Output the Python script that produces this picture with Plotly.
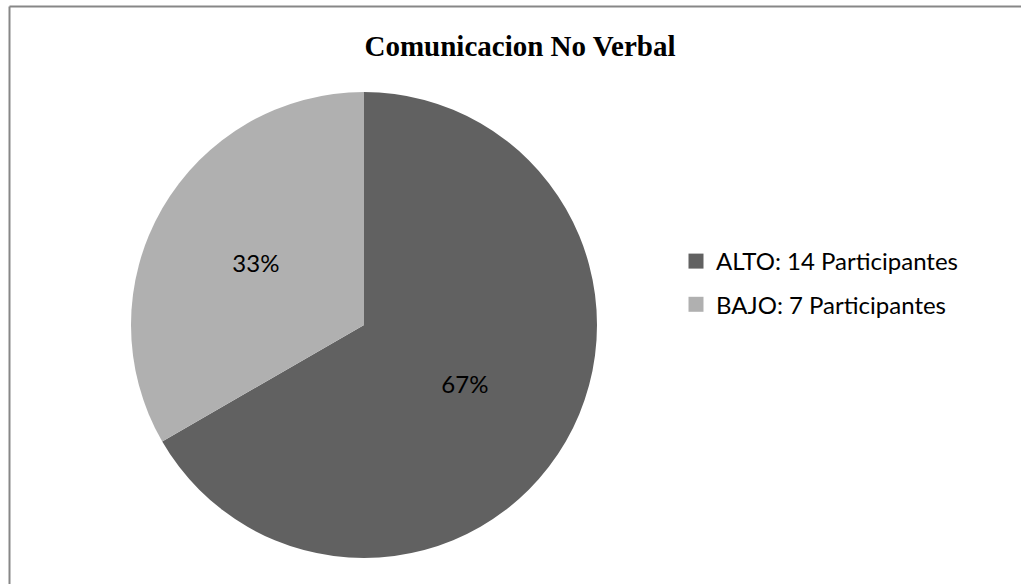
import plotly.graph_objects as go

categories = ["ALTO: 14 Participantes", "BAJO: 7 Participantes"]
participants = [14, 7]
colors = ["#616161", "#b0b0b0"]
title_text = "Comunicacion No Verbal"

W, H = 1021, 584

fig = go.Figure()
fig.add_trace(go.Pie(
    labels=categories,
    values=participants,
    sort=False,
    direction="clockwise",
    rotation=0,
    marker=dict(colors=colors, line=dict(width=0)),
    textinfo="percent",
    texttemplate="%{percent:.0%}",
    textposition="inside",
    insidetextorientation="horizontal",
    textfont=dict(family="Lato", size=24, color="#000000"),
    domain=dict(x=[131 / W, 597 / W], y=[1 - 558 / H, 1 - 92 / H]),
    hoverinfo="label+value+percent",
    showlegend=False,
))

# legend entries (same categories / colours as the pie slices)
for cat, col in zip(categories, colors):
    fig.add_trace(go.Scatter(
        x=[None], y=[None], mode="markers", name=cat, legendgroup=cat,
        marker=dict(symbol="square", size=15, color=col, line=dict(width=0)),
        hoverinfo="skip",
    ))

fig.update_layout(
    width=W, height=H,
    margin=dict(l=0, r=0, t=0, b=0),
    paper_bgcolor="white",
    plot_bgcolor="white",
    xaxis=dict(visible=False),
    yaxis=dict(visible=False),
    title=dict(text="<b>" + title_text + "</b>", x=520 / W, xanchor="center",
               y=1 - 46 / H, yanchor="middle",
               font=dict(family="Liberation Serif", size=29, color="#000000")),
    legend=dict(x=676 / W, xanchor="left", y=1 - 239 / H, yanchor="top",
                font=dict(family="Lato", size=24, color="#000000"),
                traceorder="grouped", tracegroupgap=9,
                bgcolor="rgba(0,0,0,0)"),
    shapes=[
        dict(type="line", xref="paper", yref="paper", x0=9.5 / W, x1=1, y0=1 - 6.5 / H, y1=1 - 6.5 / H,
             line=dict(color="#878787", width=2)),
        dict(type="line", xref="paper", yref="paper", x0=9.5 / W, x1=9.5 / W, y0=0, y1=1 - 6.5 / H,
             line=dict(color="#878787", width=2)),
    ],
)

fig.write_html("out.html", config={"displayModeBar": False},
               post_script="document.body.style.margin='0';document.body.style.padding='0';")
